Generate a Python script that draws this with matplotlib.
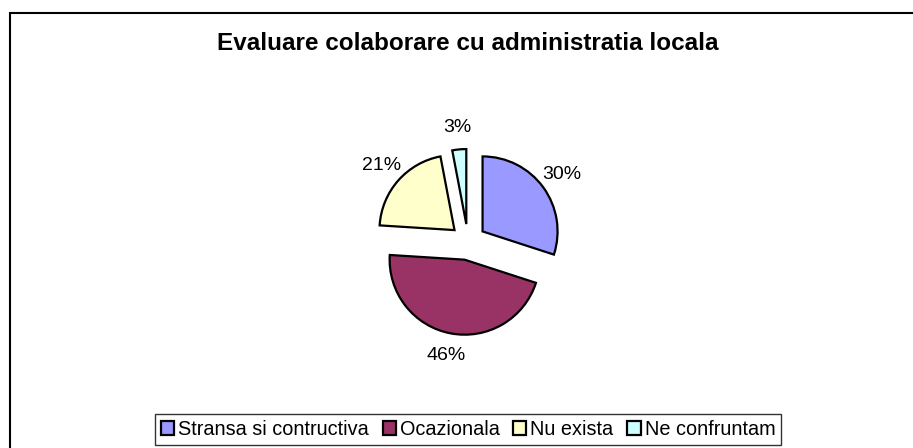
import matplotlib
matplotlib.use("Agg")
import matplotlib.pyplot as plt
from matplotlib.patches import Rectangle

plt.rcParams['font.family'] = ['Liberation Sans', 'DejaVu Sans']

title = "Evaluare colaborare cu administratia locala"
categories = ["Stransa si contructiva", "Ocazionala", "Nu exista", "Ne confruntam"]
values = [30, 46, 21, 3]
colors = ["#9999FF", "#993366", "#FFFFCC", "#CCFFFF"]

W, H = 913, 448
fig = plt.figure(figsize=(W / 100, H / 100), dpi=100)

# pie axes: 300x300 px centred on the pie centre (468, 242)
cx, cy, side = 468, 242, 300
ax = fig.add_axes([(cx - side / 2) / W, (H - cy - side / 2) / H, side / W, side / H])
wedges, texts, autotexts = ax.pie(
    values, colors=colors, startangle=90, counterclock=False,
    explode=[0.24] * len(values), radius=1.0,
    autopct='%1.0f%%', pctdistance=1.3,
    wedgeprops=dict(edgecolor='black', linewidth=1.6),
    textprops=dict(fontsize=14, color='black'))
ax.set_xlim(-2, 2)
ax.set_ylim(-2, 2)
ax.set_aspect('equal')
ax.axis('off')

fig.text(cx / W, 1 - 50 / H, title, ha='center', va='baseline',
         fontsize=17.5, fontweight='bold')

leg = fig.legend(wedges, categories, loc='center', bbox_to_anchor=(cx / W, (H - 429.5) / H),
                 ncol=4, frameon=True, fancybox=False, edgecolor='black',
                 fontsize=14.3, handlelength=0.66, handleheight=0.66,
                 handletextpad=0.2, columnspacing=0.7, borderpad=0.3)
leg.get_frame().set_linewidth(1.0)

# outer chart border (only top and left edges fall inside the picture)
fig.patches.append(Rectangle((10 / W, -0.1), 1.2, 1 - 13 / H + 0.1, transform=fig.transFigure,
                             fill=False, edgecolor='black', linewidth=1.5))

fig.savefig("out.png", dpi=100)
